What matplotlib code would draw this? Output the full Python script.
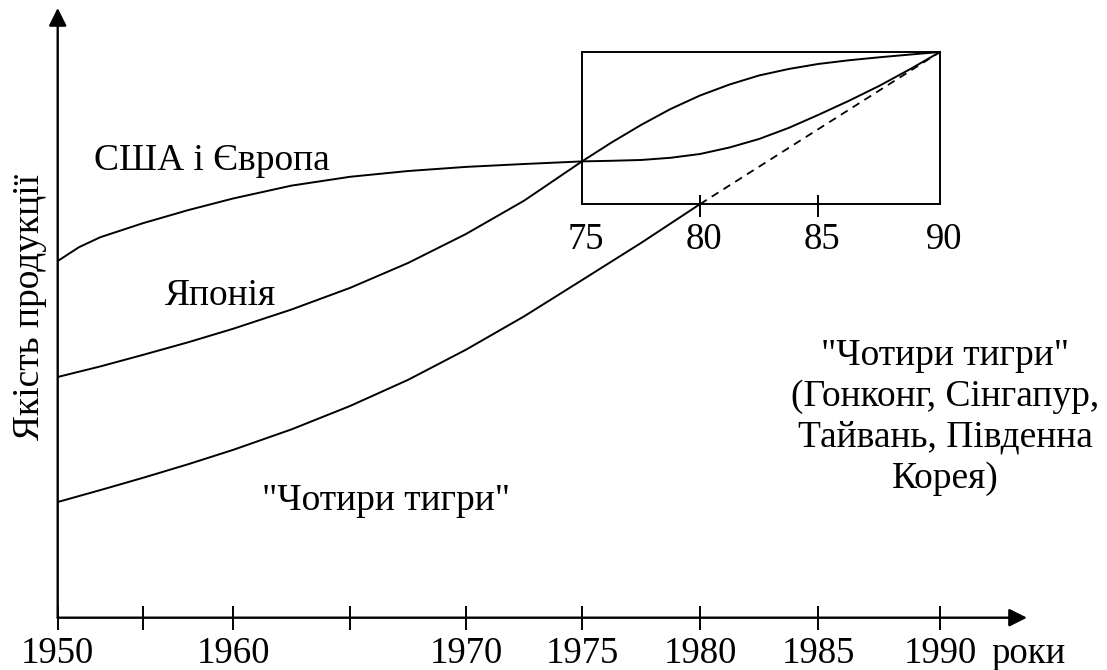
import numpy as np
import matplotlib
matplotlib.use("Agg")
import matplotlib.pyplot as plt
from matplotlib.patches import Rectangle

plt.rcParams["font.family"] = ["Liberation Serif", "DejaVu Serif"]

# ---- дані: роки та умовна якість продукції (0..100) ----
usa_years = [1950, 1951.25, 1952.5, 1955, 1957.5, 1960, 1962.5, 1965, 1967.5,
             1970, 1972.5, 1975, 1976.25, 1977.5, 1978.75, 1980, 1981.25,
             1982.5, 1983.75, 1985, 1986.25, 1987.5, 1988.75, 1990]
usa_q = [63.05, 65.5, 67.26, 69.74, 72.04, 74.10, 76.38, 77.94, 78.96,
         79.69, 80.20, 80.66, 80.77, 80.91, 81.30, 81.97, 83.12,
         84.62, 86.57, 88.86, 91.34, 93.99, 96.91, 100.0]
japan_years = [1950, 1952.5, 1955, 1957.5, 1960, 1962.5, 1965, 1967.5, 1970,
               1972.5, 1975, 1976.25, 1977.5, 1978.75, 1980, 1981.25, 1982.5,
               1983.75, 1985, 1986.25, 1987.5, 1988.75, 1990]
japan_q = [42.55, 44.42, 46.46, 48.68, 51.07, 54.48, 58.30, 62.70, 67.83,
           73.71, 80.66, 84.00, 87.10, 89.92, 92.31, 94.25, 95.85,
           96.99, 97.88, 98.53, 99.06, 99.54, 100.0]
tigers_years = [1950, 1952.5, 1955, 1957.5, 1960, 1962.5, 1965, 1967.5,
                1970, 1972.5, 1975, 1977.5, 1980]
tigers_q = [20.45, 22.56, 24.73, 27.12, 29.66, 33.29, 37.42, 42.04,
            47.38, 53.26, 59.68, 66.24, 73.11]
tigers_trend_years = [1980, 1990]
tigers_trend_q = [73.11, 100.0]

tick_years = [1950, 1955, 1960, 1965, 1970, 1975, 1980, 1985, 1990]
tick_labels = ["1950", "", "1960", "", "1970", "1975", "1980", "1985", "1990"]
box_years = [1975, 1990]
box_q = [73.11, 100.0]
box_tick_years = [1980, 1985]
box_label_years = [1975, 1980, 1985, 1990]
box_labels = ["75", "80", "85", "90"]

# ---- нерівномірна шкала років (як на малюнку) ----
W, H = 1107, 670
AXIS_PX = [57.7, 143, 233, 350, 466, 582, 700, 818, 940]
ext_years = [1900] + tick_years + [2050]
ext_px = [57.7 - 50 * 17.0] + AXIS_PX + [940 + 60 * 24.2]


def fwd(x):
    return np.interp(x, ext_years, ext_px)


def inv(p):
    return np.interp(p, ext_px, ext_years)


def fig_xy(x, y):
    return x / W, 1 - y / H


x0_px, x1_px = 57.7, 1027
y0_px, y1_px = 617.7, 8
q_per_px = 100.0 / (617.7 - 52)

fig = plt.figure(figsize=(W / 100, H / 100), dpi=100)
ax = fig.add_axes([x0_px / W, 1 - y0_px / H, (x1_px - x0_px) / W, (y0_px - y1_px) / H])
ax.set_xscale("function", functions=(fwd, inv))
ax.set_xlim(1950, inv(x1_px))
ax.set_ylim(0, (y0_px - y1_px) * q_per_px)

for sp in ax.spines.values():
    sp.set_visible(False)

# осі зі стрілками
arrow = dict(arrowstyle="-|>,head_length=0.9,head_width=0.45", color="black",
             lw=1.7, shrinkA=0, shrinkB=0, mutation_scale=12)
ax.annotate("", xy=(1, 0), xytext=(0, 0), xycoords="axes fraction", arrowprops=arrow)
ax.annotate("", xy=(0, 1), xytext=(0, 0), xycoords="axes fraction", arrowprops=arrow)

ax.set_xticks(tick_years)
ax.set_xticklabels(tick_labels)
ax.set_yticks([])
ax.tick_params(axis="x", direction="inout", length=17, width=1.4, pad=5,
               labelsize=26.5, color="black")

# криві
line_kw = dict(color="black", lw=1.4, solid_joinstyle="round")
ax.plot(usa_years, usa_q, **line_kw)
ax.plot(japan_years, japan_q, **line_kw)
ax.plot(tigers_years, tigers_q, **line_kw)
ax.plot(tigers_trend_years, tigers_trend_q, color="black", lw=1.3,
        linestyle=(0, (4.4, 3.3)))

# рамка 1975-1990
ax.add_patch(Rectangle((box_years[0], box_q[0]), box_years[1] - box_years[0],
                       box_q[1] - box_q[0], fill=False, lw=1.4, ec="black"))
ax.vlines(box_tick_years, box_q[0] - 13 * q_per_px, box_q[0] + 9 * q_per_px,
          color="black", lw=1.4)
for yr, lbl in zip(box_label_years, box_labels):
    ax.annotate(lbl, (yr, box_q[0]), xytext=(4, -45), textcoords="offset pixels",
                ha="center", va="baseline", fontsize=26.5)

# підписи
fs = 27
fig.text(*fig_xy(1028, 663), "роки", ha="center", va="baseline", fontsize=26.5)
fig.text(*fig_xy(30, 307), "Якість продукції", rotation=90, ha="center",
         va="center", fontsize=27)
fig.text(*fig_xy(212, 170), "США і Європа", ha="center", va="baseline", fontsize=fs)
fig.text(*fig_xy(220, 305), "Японія", ha="center", va="baseline", fontsize=fs)
fig.text(*fig_xy(386, 510), '"Чотири тигри"', ha="center", va="baseline", fontsize=fs)
right_lines = ['"Чотири тигри"', "(Гонконг, Сінгапур,", "Тайвань, Південна", "Корея)"]
for i, line in enumerate(right_lines):
    fig.text(*fig_xy(945, 365 + 41 * i), line, ha="center", va="baseline", fontsize=fs)

fig.savefig("out.png", dpi=100, facecolor="white")
